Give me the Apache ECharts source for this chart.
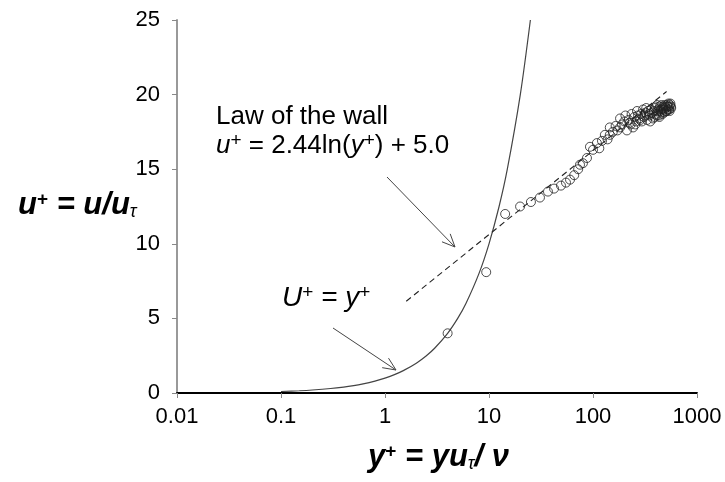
<!DOCTYPE html>
<html>
<head>
<meta charset="utf-8">
<script src="https://cdn.jsdelivr.net/npm/echarts@6/dist/echarts.min.js"></script>
<style>
html, body { margin: 0; padding: 0; background: #fff; }
#chart { width: 725px; height: 482px; }
</style>
</head>
<body>
<div id="chart"></div>
<script>
// measured velocity profile (y+, u+)
var measYPlus = [4, 9.4, 14.3, 19.9, 25.3, 30.9, 36.9, 42.2, 49.2, 55,
    60.1, 66, 72, 75, 80, 87.5, 93.5, 100, 109, 115,
    122, 130, 138, 145, 145, 155, 165, 172, 182, 182,
    190, 200, 212, 220, 230, 243, 250, 260, 271, 280,
    290, 303, 310, 320, 331, 340, 350, 360, 378, 385,
    395, 405, 413, 420, 430, 440, 450, 460, 471, 480,
    490, 500, 510, 520, 530, 540, 550, 560,
    205, 225, 235, 255, 265, 285, 295, 315, 325, 345,
    355, 370, 390, 400, 410, 425, 435, 445, 455, 465,
    475, 485, 495, 505, 515, 525, 535, 545, 555, 565];
var measUPlus = [4, 8.1, 12.0, 12.5, 12.8, 13.1, 13.5, 13.7, 13.9, 14.1,
    14.3, 14.6, 15.0, 15.3, 15.4, 15.75, 16.5, 16.3, 16.75, 16.4,
    16.9, 17.3, 17.0, 17.3, 17.8, 17.5, 17.9, 17.6, 18.4, 17.8,
    18.0, 18.2, 17.6, 18.3, 18.0, 17.8, 18.5, 18.2, 18.6, 18.4,
    18.7, 19.0, 18.5, 18.8, 18.3, 18.9, 18.6, 19.0, 18.4, 18.9,
    19.1, 18.7, 19.3, 18.9, 18.6, 19.2, 19.0, 18.8, 19.2, 19.0,
    19.3, 19.1, 18.9, 19.2, 19.4, 19.0, 19.3, 19.2,
    18.6, 18.1, 18.7, 18.0, 18.9, 18.3, 18.2, 18.6, 19.1, 18.7,
    18.2, 18.8, 18.5, 19.2, 18.6, 19.0, 18.5, 18.9, 19.3, 18.7,
    19.1, 18.8, 19.2, 18.9, 19.3, 19.0, 19.2, 18.9, 19.4, 19.1];

// viscous sublayer  U+ = y+
var linYPlus = [0.1, 0.15, 0.2, 0.3, 0.4, 0.5, 0.6, 0.8, 1, 1.25, 1.5, 2, 2.5, 3, 4, 5, 6, 8, 10, 12.5, 15, 20, 25];
var linUPlus = [0.1, 0.15, 0.2, 0.3, 0.4, 0.5, 0.6, 0.8, 1, 1.25, 1.5, 2, 2.5, 3, 4, 5, 6, 8, 10, 12.5, 15, 20, 25];

// log law  u+ = 2.44 ln(y+) + 5.0
var logYPlus = [1.6, 10, 100, 510];
var logUPlus = [6.15, 10.62, 16.24, 20.21];

var FONT = 'Liberation Sans';

function pairs(xs, ys) {
    return xs.map(function (x, i) { return [x, ys[i]]; });
}

// line with an open arrow head at (x2, y2)
function arrow(x1, y1, x2, y2) {
    var a = Math.atan2(y2 - y1, x2 - x1), len = 14, spread = 0.42;
    var p1 = [x2 - len * Math.cos(a - spread), y2 - len * Math.sin(a - spread)];
    var p2 = [x2 - len * Math.cos(a + spread), y2 - len * Math.sin(a + spread)];
    var st = { stroke: '#444', lineWidth: 1, fill: null };
    return [
        { type: 'line', shape: { x1: x1, y1: y1, x2: x2, y2: y2 }, style: st, silent: true },
        { type: 'polyline', shape: { points: [p1, [x2, y2], p2] }, style: st, silent: true }
    ];
}

var big = { fontFamily: FONT, fontSize: 31, fontWeight: 'bold', fontStyle: 'italic', color: '#111' };
var bigSup = { fontFamily: FONT, fontSize: 19, fontWeight: 'bold', color: '#111', verticalAlign: 'top' };
var bigSub = { fontFamily: FONT, fontSize: 18, fontStyle: 'italic', color: '#111', verticalAlign: 'bottom' };
var ann = { fontFamily: FONT, fontSize: 26, color: '#111', lineHeight: 29 };
var annI = { fontFamily: FONT, fontSize: 26, fontStyle: 'italic', color: '#111', lineHeight: 29 };
var annSup = { fontFamily: FONT, fontSize: 19, color: '#111', verticalAlign: 'top', lineHeight: 29 };
var uI = { fontFamily: FONT, fontSize: 28, fontStyle: 'italic', color: '#111', lineHeight: 30 };
var uSup = { fontFamily: FONT, fontSize: 19, color: '#111', verticalAlign: 'top', lineHeight: 30 };

var chart = echarts.init(document.getElementById('chart'));

var option = {
    animation: false,
    backgroundColor: '#fff',
    grid: { left: 177, right: 28, top: 20, bottom: 89, outerBoundsMode: 'none' },
    xAxis: {
        type: 'log',
        logBase: 10,
        min: 0.01,
        max: 1000,
        splitNumber: 5,
        axisLine: { lineStyle: { color: '#000', width: 2 } },
        axisTick: { show: true, length: 5, lineStyle: { color: '#888', width: 1 } },
        minorTick: { show: false },
        splitLine: { show: false },
        axisLabel: {
            fontFamily: FONT, fontSize: 22, color: '#000', margin: 13,
            formatter: function (v) { return String(parseFloat(Number(v).toPrecision(6))); }
        }
    },
    yAxis: {
        type: 'value',
        min: 0,
        max: 25,
        interval: 5,
        axisLine: { show: true, lineStyle: { color: '#999', width: 2 } },
        axisTick: { show: true, length: 5, lineStyle: { color: '#888', width: 1 } },
        splitLine: { show: false },
        axisLabel: { fontFamily: FONT, fontSize: 22, color: '#000', margin: 17 }
    },
    series: [
        {
            name: 'U+ = y+',
            type: 'line',
            data: pairs(linYPlus, linUPlus),
            showSymbol: false,
            smooth: 0.3,
            lineStyle: { color: '#444', width: 1.2 },
            z: 2
        },
        {
            name: 'log law',
            type: 'line',
            data: pairs(logYPlus, logUPlus),
            showSymbol: false,
            lineStyle: { color: '#222', width: 1.1, type: [6, 4] },
            z: 2
        },
        {
            name: 'measured',
            type: 'scatter',
            data: pairs(measYPlus, measUPlus),
            symbol: 'circle',
            symbolSize: 9,
            itemStyle: { color: 'rgba(0,0,0,0)', borderColor: '#222', borderWidth: 1 },
            z: 3
        }
    ],
    graphic: [
        {
            type: 'text', left: 18, top: 190,
            style: {
                text: '{m|u}{s|+}{m| = u/u}{b|τ}',
                rich: { m: big, s: bigSup, b: bigSub }
            }
        },
        {
            type: 'text', left: 368, top: 442,
            style: {
                text: '{m|y}{s|+}{m| = yu}{b|τ}{m|/ ν}',
                rich: { m: big, s: bigSup, b: bigSub }
            }
        },
        {
            type: 'text', left: 216, top: 104,
            style: {
                text: '{r|Law of the wall}\n{i|u}{s|+}{r| = 2.44ln(}{i|y}{s|+}{r|) + 5.0}',
                rich: { r: ann, i: annI, s: annSup }
            }
        },
        {
            type: 'text', left: 282, top: 283,
            style: {
                text: '{i|U}{s|+}{i| = y}{s|+}',
                rich: { i: uI, s: uSup }
            }
        }
    ].concat(arrow(387, 177, 455, 247), arrow(333, 328, 396, 370))
};

chart.setOption(option);
</script>
</body>
</html>
